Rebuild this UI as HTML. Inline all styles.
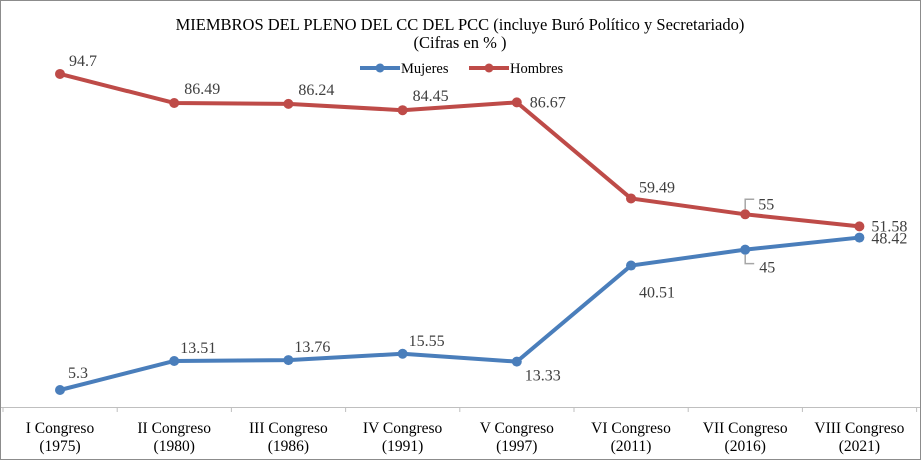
<!DOCTYPE html>
<html><head><meta charset="utf-8"><style>
html,body{margin:0;padding:0;background:#fff}
svg{display:block;font-family:"Liberation Serif",serif}
</style></head><body>
<svg id="chart" width="921" height="460">
<rect x="0.5" y="0.5" width="920" height="459" fill="#fff" stroke="#8c8c8c"/>
<text x="460" y="30" text-anchor="middle" font-size="16.5" fill="#000">MIEMBROS DEL PLENO DEL CC DEL PCC (incluye Buró Político y Secretariado)</text>
<text x="460" y="48" text-anchor="middle" font-size="16.5" fill="#000">(Cifras en % )</text>
<g>
<g><line x1="360" y1="68" x2="400" y2="68" stroke="#4a7ebb" stroke-width="4"/><circle cx="380" cy="68" r="4.5" fill="#4a7ebb"/><text x="401" y="73" font-size="14.5">Mujeres</text></g>
<g><line x1="469" y1="68" x2="509" y2="68" stroke="#be4b48" stroke-width="4"/><circle cx="489" cy="68" r="4.5" fill="#be4b48"/><text x="510" y="73" font-size="14.5">Hombres</text></g>
</g>
<line x1="1" y1="407.5" x2="920" y2="407.5" stroke="#bfbfbf"/>
<g id="plot"></g>
</svg>
<script>
const categories=["I Congreso|(1975)","II Congreso|(1980)","III Congreso|(1986)","IV Congreso|(1991)","V Congreso|(1997)","VI Congreso|(2011)","VII Congreso|(2016)","VIII Congreso|(2021)"];
const mujeres=[5.3,13.51,13.76,15.55,13.33,40.51,45,48.42];
const hombres=[94.7,86.49,86.24,84.45,86.67,59.49,55,51.58];
const mujeresLabels=["5.3","13.51","13.76","15.55","13.33","40.51","45","48.42"];
const hombresLabels=["94.7","86.49","86.24","84.45","86.67","59.49","55","51.58"];

const NS="http://www.w3.org/2000/svg";
const g=document.getElementById('plot');
function x(i){return 60+i*114.2;}
function y(v){return 390-(v-5.3)*3.535;}
function mk(tag,attrs,parent){const e=document.createElementNS(NS,tag);for(const k in attrs)e.setAttribute(k,attrs[k]);(parent||g).appendChild(e);return e;}
for(let i=0;i<=categories.length;i++){
  const t=mk('line',{x1:3+i*114.2,y1:407,x2:3+i*114.2,y2:412,stroke:'#bfbfbf'});
  
  
}
categories.forEach((c,i)=>{
  const parts=c.split('|');
  const t=mk('text',{x:x(i),y:433,'text-anchor':'middle','font-size':'15.5'});
  
  
  parts.forEach((p,j)=>{const s=mk('tspan',{x:x(i),dy:j?18:0},t);s.textContent=p;});
});
function series(vals,labels,color,name,offs){
  const sg=mk('g',{});
  
  
  const pl=mk('polyline',{points:vals.map((v,i)=>x(i)+','+y(v)).join(' '),fill:'none',stroke:color,'stroke-width':4,'stroke-linejoin':'round'},sg);
  
  
  vals.forEach((v,i)=>{
    const c=mk('circle',{cx:x(i),cy:y(v),r:5,fill:color},sg);
    
    
    const o=offs[i];
    const t=mk('text',{x:x(i)+o[0],y:y(v)+o[1],'font-size':'16',fill:'#404040'},sg);
    
    
    t.textContent=labels[i];
  });
}
const hOff=[[9,-8],[10,-9],[10,-9],[10,-9],[13,5],[8,-6],[13,-5],[12,5]];
const mOff=[[8,-12],[6,-8],[6,-8],[6,-8],[8,19],[8,32],[14,23],[12,6]];
series(hombres,hombresLabels,'#be4b48','hombres',hOff);
series(mujeres,mujeresLabels,'#4a7ebb','mujeres',mOff);
const l1=mk('polyline',{points:`${x(6)},${y(hombres[6])-5} ${x(6)},${y(hombres[6])-15} ${x(6)+9},${y(hombres[6])-15}`,fill:'none',stroke:'#a6a6a6','stroke-width':1.5});


const l2=mk('polyline',{points:`${x(6)},${y(mujeres[6])+5} ${x(6)},${y(mujeres[6])+14} ${x(6)+9},${y(mujeres[6])+14}`,fill:'none',stroke:'#a6a6a6','stroke-width':1.5});


</script>
</body></html>
